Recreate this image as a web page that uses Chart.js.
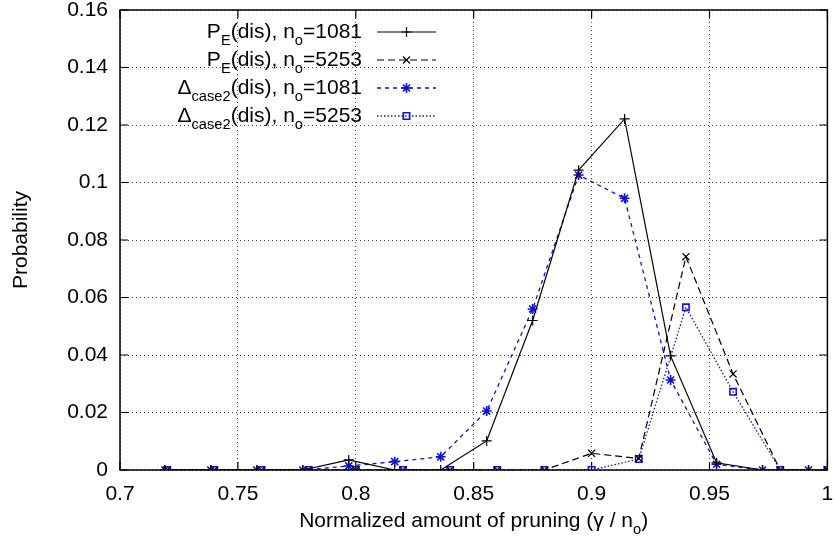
<!DOCTYPE html>
<html>
<head>
<meta charset="utf-8">
<script src="https://cdn.jsdelivr.net/npm/chart.js@4.4.1/dist/chart.umd.min.js"></script>
<style>
  html, body { margin: 0; padding: 0; background: #fff; }
  #wrap { width: 834px; height: 540px; }
</style>
</head>
<body>
<div id="wrap"><canvas id="c" width="834" height="540"></canvas></div>
<script>
// ---- data ----
const x1081 = [0.719, 0.7385, 0.758, 0.7775, 0.797, 0.8165, 0.836, 0.8555, 0.875, 0.8945, 0.914, 0.9335, 0.953, 0.9725, 0.992];
const x5253 = [0.72, 0.74, 0.76, 0.78, 0.80, 0.82, 0.84, 0.86, 0.88, 0.90, 0.92, 0.94, 0.96, 0.98, 1.00];

const pe1081 = [0, 0, 0, 0, 0.0035, 0, 0, 0.0101, 0.052, 0.1043, 0.1221, 0.0397, 0.0025, 0, 0];
const pe5253 = [0, 0, 0, 0, 0, 0, 0, 0, 0, 0.0058, 0.0040, 0.0742, 0.0334, 0, 0];
const d1081  = [0, 0, 0, 0, 0.0014, 0.0029, 0.0046, 0.0205, 0.0560, 0.1026, 0.0945, 0.0313, 0.0020, 0, 0];
const d5253  = [0, 0, 0, 0, 0, 0, 0, 0, 0, 0, 0.0038, 0.0566, 0.0272, 0, 0];

const xTicks = [0.7, 0.75, 0.8, 0.85, 0.9, 0.95, 1.0];
const yTicks = [0, 0.02, 0.04, 0.06, 0.08, 0.1, 0.12, 0.14, 0.16];

// legend labels, split in parts so subscripts can be drawn smaller
const legendParts = [
  [["P"], ["E", 1], ["(dis), n"], ["o", 1], ["=1081"]],
  [["P"], ["E", 1], ["(dis), n"], ["o", 1], ["=5253"]],
  [["\u0394"], ["case2", 1], ["(dis), n"], ["o", 1], ["=1081"]],
  [["\u0394"], ["case2", 1], ["(dis), n"], ["o", 1], ["=5253"]]
];
const xTitleParts = [["Normalized amount of pruning (\u03b3 / n"], ["o", 1], [")"]];

const BLUE = "#1010d8";
const FONT = "Liberation Sans, Arial, sans-serif";
const FS = 21;

const pts = (xs, ys) => xs.map((x, i) => ({ x: x, y: ys[i] }));

// draws text with subscript parts
function richText(ctx, parts, x, y, size, align) {
  let w = 0;
  parts.forEach(p => {
    ctx.font = (p[1] ? size * 0.7 : size) + "px " + FONT;
    w += ctx.measureText(p[0]).width;
  });
  let cx = align === "right" ? x - w : align === "center" ? x - w / 2 : x;
  ctx.textAlign = "left";
  ctx.textBaseline = "middle";
  parts.forEach(p => {
    const s = p[1] ? size * 0.7 : size;
    ctx.font = s + "px " + FONT;
    ctx.fillText(p[0], cx, p[1] ? y + size * 0.42 : y);
    cx += ctx.measureText(p[0]).width;
  });
}

const extras = {
  id: "extras",
  afterDraw(chart) {
    const ctx = chart.ctx;
    const a = chart.chartArea;
    const xs = chart.scales.x, ys = chart.scales.y;
    ctx.save();
    // inward ticks on all four sides
    ctx.strokeStyle = "#000";
    ctx.lineWidth = 1.2;
    ctx.setLineDash([]);
    ctx.beginPath();
    xTicks.forEach(t => {
      const px = xs.getPixelForValue(t);
      ctx.moveTo(px, a.bottom); ctx.lineTo(px, a.bottom - 8);
      ctx.moveTo(px, a.top); ctx.lineTo(px, a.top + 8);
    });
    yTicks.forEach(t => {
      const py = ys.getPixelForValue(t);
      ctx.moveTo(a.left, py); ctx.lineTo(a.left + 8, py);
      ctx.moveTo(a.right, py); ctx.lineTo(a.right - 8, py);
    });
    ctx.stroke();
    // frame
    ctx.lineWidth = 1.5;
    ctx.strokeRect(a.left, a.top, a.right - a.left, a.bottom - a.top);

    // legend (text right aligned, sample on the right)
    chart.data.datasets.forEach((ds, i) => {
      const y = 32 + i * 28;
      ctx.fillStyle = "#000";
      richText(ctx, legendParts[i], 362, y, FS, "right");
      ctx.strokeStyle = ds.borderColor;
      ctx.lineWidth = ds.borderWidth;
      ctx.setLineDash(ds.borderDash || []);
      ctx.beginPath();
      ctx.moveTo(377, y); ctx.lineTo(436, y);
      ctx.stroke();
      ctx.setLineDash([]);
      ctx.fillStyle = "rgba(0,0,0,0)";
      ctx.lineWidth = ds.pointBorderWidth;
      Chart.helpers.drawPoint(ctx, {
        pointStyle: ds.pointStyle, radius: ds.pointRadius, rotation: 0, borderWidth: ds.pointBorderWidth
      }, 406.5, y);
    });

    // x axis title with subscript
    ctx.fillStyle = "#000";
    richText(ctx, xTitleParts, (a.left + a.right) / 2, 521, FS, "center");
    ctx.restore();
  }
};

new Chart(document.getElementById("c"), {
  type: "scatter",
  data: {
    datasets: [
      {
        label: "PE(dis), no=1081", data: pts(x1081, pe1081),
        showLine: true, borderColor: "#000", backgroundColor: "rgba(0,0,0,0)",
        borderWidth: 1.2, pointStyle: "cross", pointRadius: 5, pointBorderWidth: 1.2
      },
      {
        label: "PE(dis), no=5253", data: pts(x5253, pe5253),
        showLine: true, borderColor: "#000", backgroundColor: "rgba(0,0,0,0)",
        borderWidth: 1.2, borderDash: [7, 4], pointStyle: "crossRot", pointRadius: 5, pointBorderWidth: 1.2
      },
      {
        label: "Δcase2(dis), no=1081", data: pts(x1081, d1081),
        showLine: true, borderColor: BLUE, backgroundColor: "rgba(0,0,0,0)",
        borderWidth: 1.3, borderDash: [4, 4], pointStyle: "star", pointRadius: 5, pointBorderWidth: 1.6
      },
      {
        label: "Δcase2(dis), no=5253", data: pts(x5253, d5253),
        showLine: true, borderColor: BLUE, backgroundColor: "rgba(0,0,0,0)",
        borderWidth: 1.3, borderDash: [1.5, 2], pointStyle: "rect", pointRadius: 4.5, pointBorderWidth: 1.6
      }
    ]
  },
  options: {
    responsive: false,
    animation: false,
    layout: { padding: { top: 10, right: 2, left: 0, bottom: 0 } },
    plugins: { legend: { display: false }, tooltip: { enabled: false } },
    scales: {
      x: {
        type: "linear", min: 0.7, max: 1.0,
        afterBuildTicks: s => { s.ticks = xTicks.map(v => ({ value: v })); },
        afterFit: s => { s.height = 70; s.paddingLeft = 0; s.paddingRight = 0; },
        grid: { color: "#444", drawTicks: false, lineWidth: 1 },
        border: { display: false, dash: [1, 3] },
        ticks: {
          color: "#000", padding: 12, maxRotation: 0,
          font: { family: FONT, size: FS },
          callback: v => String(Number(v.toFixed(2)))
        }
      },
      y: {
        type: "linear", min: 0, max: 0.16,
        afterBuildTicks: s => { s.ticks = yTicks.map(v => ({ value: v })); },
        afterFit: s => { s.width = 120; s.paddingTop = 0; s.paddingBottom = 0; },
        grid: { color: "#444", drawTicks: false, lineWidth: 1 },
        border: { display: false, dash: [1, 3] },
        title: { display: true, text: "Probability", color: "#000", font: { family: FONT, size: FS }, padding: { top: 9, bottom: 4 } },
        ticks: {
          color: "#000", padding: 12,
          font: { family: FONT, size: FS },
          callback: v => String(Number(v.toFixed(2)))
        }
      }
    }
  },
  plugins: [extras]
});
</script>
</body>
</html>
